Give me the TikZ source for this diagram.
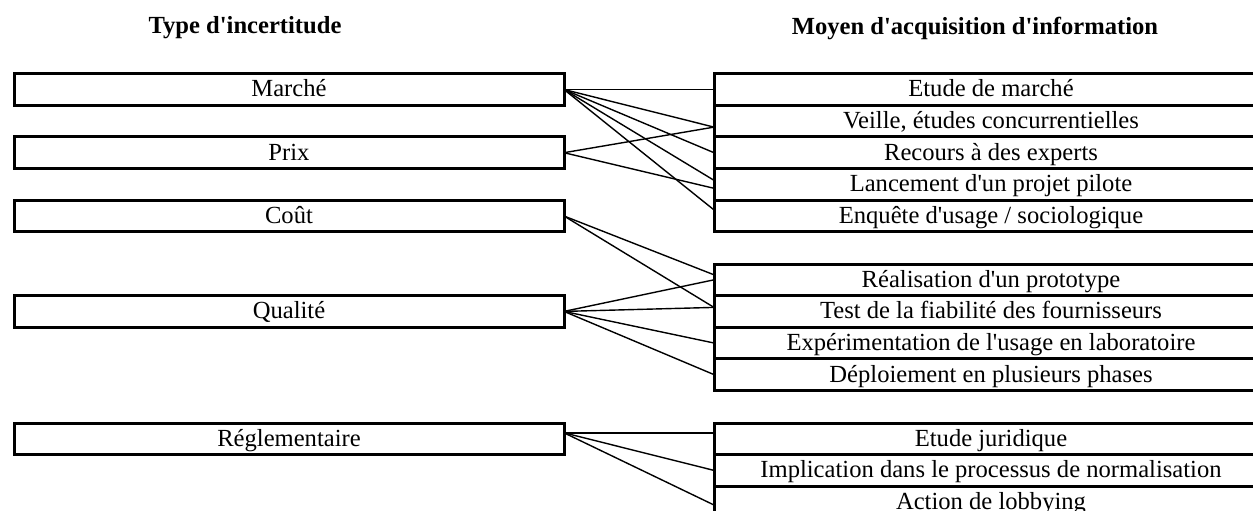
\documentclass[tikz,border=0pt]{standalone}
\usepackage{fontspec}
\setmainfont{Liberation Serif}[Ligatures=TeXOff]
\usetikzlibrary{calc}

\tikzset{
	incert/.style={draw, line width=1.5pt, minimum width=275pt, minimum height=15.8pt, inner sep=0pt, outer sep=0pt, text height=9.4pt, text depth=2pt},
	moyen/.style={draw, line width=1.5pt, minimum width=277pt, minimum height=15.8pt, inner sep=0pt, outer sep=0pt, text height=9.4pt, text depth=2pt},
	lien/.style={line width=0.7pt},
	titre/.style={font=\bfseries\fontsize{12.3}{14}\selectfont}
}

\begin{document}
\begin{tikzpicture}[x=0.5pt, y=-0.5pt, font=\fontsize{12.3}{14}\selectfont]
				%%%%% START %%%%%
				\useasboundingbox (0, 0) rectangle (1253, 510);
				
				\node[titre] (titreA) at (245, 28) {Type d'incertitude};
				\node[titre] (titreB) at (975, 28) {Moyen d'acquisition d'information};
				
				% types d'incertitude
				\node[incert] (marche) at (289, 89.5) {Marché};
				\node[incert] (prix) at (289, 152.7) {Prix};
				\node[incert] (cout) at (289, 216) {Coût};
				\node[incert] (qualite) at (289, 311.4) {Qualité};
				\node[incert] (regl) at (289, 438.8) {Réglementaire};
				
				% moyens
				\node[moyen] (etude) at (991, 89.5) {Etude de marché};
				\node[moyen] (veille) at (991, 121.1) {Veille, études concurrentielles};
				\node[moyen] (recours) at (991, 152.7) {Recours à des experts};
				\node[moyen] (pilote) at (991, 184.3) {Lancement d'un projet pilote};
				\node[moyen] (enquete) at (991, 215.9) {Enquête d'usage / sociologique};
				
				\node[moyen] (proto) at (991, 279.8) {Réalisation d'un prototype};
				\node[moyen] (fiab) at (991, 311.4) {Test de la fiabilité des fournisseurs};
				\node[moyen] (labo) at (991, 343) {Expérimentation de l'usage en laboratoire};
				\node[moyen] (phases) at (991, 374.6) {Déploiement en plusieurs phases};
				
				\node[moyen] (jurid) at (991, 438.8) {Etude juridique};
				\node[moyen] (normal) at (991, 470.4) {Implication dans le processus de normalisation};
				\node[moyen] (lobby) at (991, 502) {Action de lobbying};
				
				% liens
				\draw[lien] (marche.east) -- (etude.west);
				\draw[lien] (marche.east) -- ([yshift=-3pt]veille.west);
				\draw[lien] (marche.east) -- (recours.west);
				\draw[lien] (marche.east) -- ([yshift=2pt]pilote.west);
				\draw[lien] (marche.east) -- ([yshift=3pt]enquete.west);
				
				\draw[lien] (prix.east) -- ([yshift=-3pt]veille.west);
				\draw[lien] (prix.east) -- ([yshift=-2pt]pilote.west);
				
				\draw[lien] (cout.east) -- ([yshift=2.5pt]proto.west);
				\draw[lien] (cout.east) -- ([yshift=2pt]fiab.west);
				
				\draw[lien] (qualite.east) -- (proto.west);
				\draw[lien] (qualite.east) -- ([yshift=2pt]fiab.west);
				\draw[lien] (qualite.east) -- (labo.west);
				\draw[lien] (qualite.east) -- (phases.west);
				
				\draw[lien] ([yshift=3pt]regl.east) -- ([yshift=3pt]jurid.west);
				\draw[lien] ([yshift=3pt]regl.east) -- (normal.west);
				\draw[lien] ([yshift=3pt]regl.east) -- ([yshift=-1.5pt]lobby.west);
				%%%%% END %%%%%
\end{tikzpicture}
\end{document}
